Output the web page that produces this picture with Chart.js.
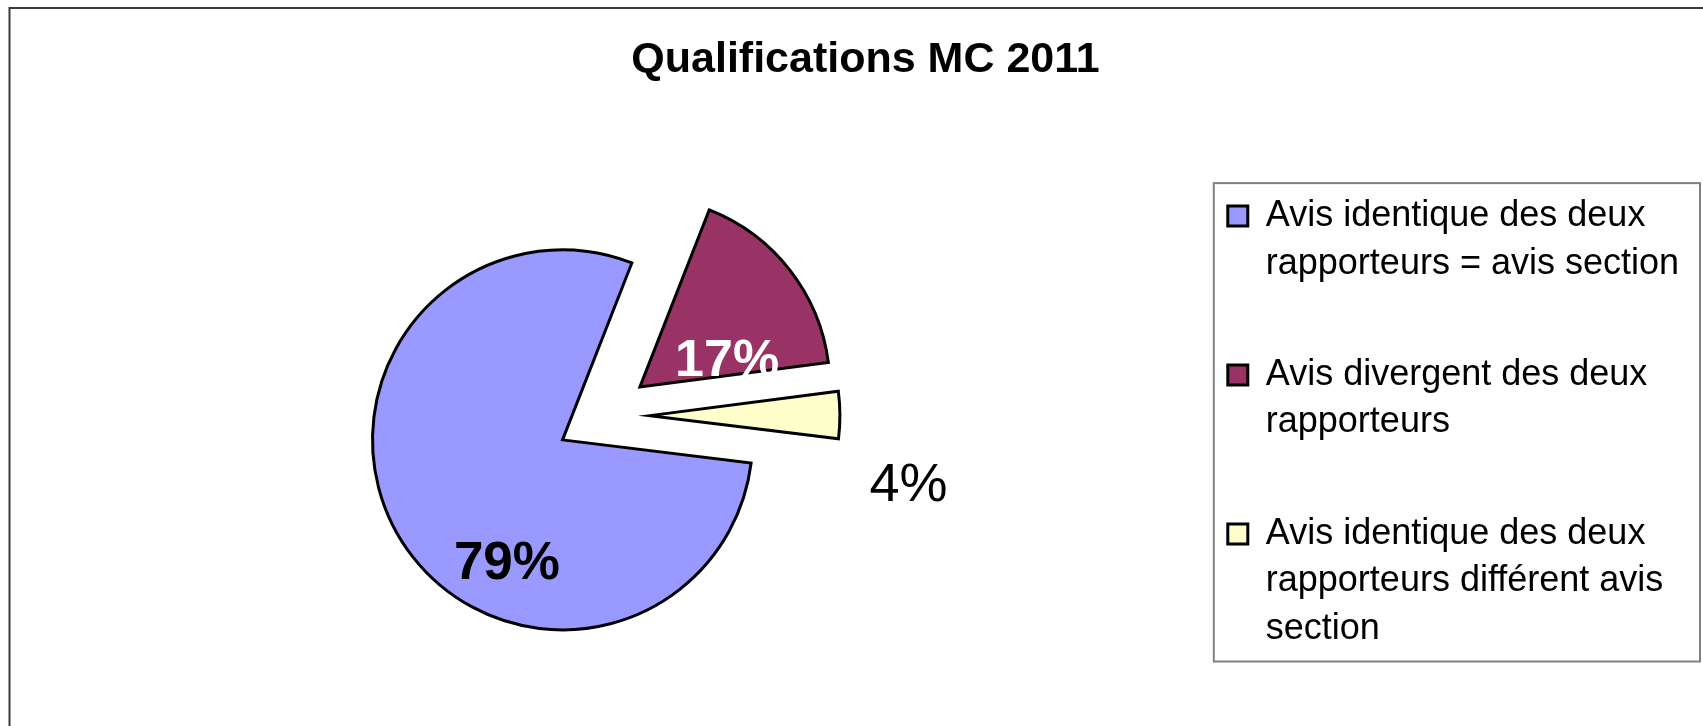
<!DOCTYPE html>
<html>
<head>
<meta charset="utf-8">
<script src="https://cdn.jsdelivr.net/npm/chart.js@4/dist/chart.umd.min.js"></script>
<style>
  html, body { margin: 0; padding: 0; background: #fff; }
  #wrap { width: 1703px; height: 726px; position: relative; }
</style>
</head>
<body>
<div id="wrap"><canvas id="myChart"></canvas></div>
<script>
// chart data
var chartTitle = "Qualifications MC 2011";
var categories = [
  ["Avis identique des deux", "rapporteurs = avis section"],
  ["Avis divergent des deux", "rapporteurs"],
  ["Avis identique des deux", "rapporteurs différent avis", "section"]
];
var shares = [79, 17, 4];
var sliceColors = ["#9999FF", "#993366", "#FFFFCC"];

var FONT = "'Liberation Sans', Arial, Helvetica, sans-serif";
Chart.defaults.font.family = FONT;
Chart.defaults.color = "#000";

// pie slice that is pulled out along its bisector, same radius for every slice
class ExplodedArc extends Chart.ArcElement {
  draw(ctx) {
    var o = this.options;
    var mid = (this.startAngle + this.endAngle) / 2;
    var d = o.offset || 0;
    var cx = this.x + Math.cos(mid) * d;
    var cy = this.y + Math.sin(mid) * d;
    ctx.save();
    ctx.beginPath();
    ctx.moveTo(cx, cy);
    ctx.arc(cx, cy, this.outerRadius, this.startAngle, this.endAngle);
    ctx.closePath();
    ctx.fillStyle = o.backgroundColor;
    ctx.fill();
    ctx.lineWidth = o.borderWidth;
    ctx.strokeStyle = o.borderColor;
    ctx.lineJoin = "miter";
    ctx.stroke();
    ctx.restore();
  }
}
ExplodedArc.id = "explodedArc";

class ExplodedPie extends Chart.PieController {}
ExplodedPie.id = "explodedPie";
ExplodedPie.defaults = { dataElementType: "explodedArc" };

Chart.register(ExplodedArc, ExplodedPie);

// percent labels, placed from each arc's own geometry
var labelStyle = [
  { shift: -26.3, dist: 0.93, color: "#000", weight: "bold", size: 53 },
  { shift: 14.3, dist: 0.714, color: "#fff", weight: "bold", size: 52 },
  { shift: 13.1, dist: 1.65, color: "#000", weight: "normal", size: 54 }
];

var pctLabels = {
  id: "pctLabels",
  afterDatasetsDraw: function(chart) {
    var ctx = chart.ctx;
    var meta = chart.getDatasetMeta(0);
    var total = shares.reduce(function(a, b) { return a + b; }, 0);
    meta.data.forEach(function(arc, i) {
      var s = labelStyle[i];
      var ang = (arc.startAngle + arc.endAngle) / 2 + s.shift * Math.PI / 180;
      var r = arc.outerRadius * s.dist;
      ctx.save();
      ctx.font = s.weight + " " + s.size + "px " + FONT;
      ctx.fillStyle = s.color;
      ctx.textAlign = "center";
      ctx.textBaseline = "middle";
      ctx.fillText(Math.round(shares[i] / total * 100) + "%",
        arc.x + Math.cos(ang) * r, arc.y + Math.sin(ang) * r);
      ctx.restore();
    });
  }
};

// outer frame + box round the legend
var frames = {
  id: "frames",
  afterDraw: function(chart) {
    var ctx = chart.ctx;
    ctx.save();
    ctx.strokeStyle = "#3a3a3a";
    ctx.lineWidth = 2;
    ctx.strokeRect(9.5, 8, chart.width + 20, chart.height + 20);

    var hb = chart.legend.legendHitBoxes;
    if (hb && hb.length) {
      var first = hb[0], last = hb[hb.length - 1];
      var left = first.left - 14;
      var top = first.top - 15;
      var right = chart.legend.right + 11;
      var bottom = last.top + last.height + 3;
      ctx.strokeStyle = "#808080";
      ctx.lineWidth = 2;
      ctx.strokeRect(left, top, right - left, bottom - top);
    }
    ctx.restore();
  }
};

var ctx = document.getElementById("myChart");

var myChart = new Chart(ctx, {
  type: "explodedPie",
  data: {
    labels: categories,
    datasets: [{
      data: shares,
      backgroundColor: sliceColors,
      borderColor: "#000",
      borderWidth: 3,
      offset: 47
    }]
  },
  options: {
    responsive: true,
    maintainAspectRatio: false,
    animation: false,
    events: [],
    rotation: 97,
    radius: 190,
    layout: { padding: { left: 42, right: 14, top: 0, bottom: 3.5 } },
    plugins: {
      title: {
        display: true,
        text: chartTitle,
        color: "#000",
        font: { size: 43, weight: "bold", lineHeight: 1.2 },
        padding: { top: 34, bottom: 23.5 }
      },
      legend: {
        position: "right",
        align: "end",
        labels: {
          color: "#000",
          font: { size: 36, lineHeight: 1.319 },
          boxWidth: 20,
          boxHeight: 20,
          padding: 64
        }
      },
      tooltip: { enabled: false }
    }
  },
  plugins: [pctLabels, frames]
});
</script>
</body>
</html>
